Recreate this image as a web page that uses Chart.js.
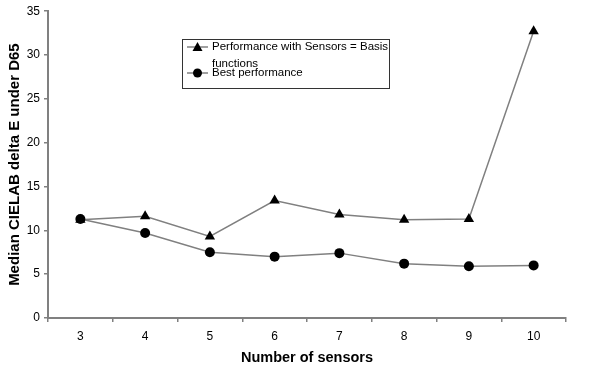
<!DOCTYPE html>
<html><head><meta charset="utf-8">
<script src="https://cdn.jsdelivr.net/npm/chart.js@4"></script>
<style>html,body{margin:0;padding:0;background:#fff}#c{display:block}</style>
</head><body>
<canvas id="c" width="591" height="367"></canvas>
<script>
const categories = ['3','4','5','6','7','8','9','10'];
const basisValues = [11.2, 11.6, 9.3, 13.4, 11.8, 11.2, 11.3, 32.7];
const bestValues = [11.3, 9.7, 7.5, 7.0, 7.4, 6.2, 5.9, 6.0];
const seriesNames = ['Performance with Sensors = Basis functions', 'Best performance'];
const yTicks = [0,5,10,15,20,25,30,35];
const FONT = '"Liberation Sans", Arial, sans-serif';

const legendPlugin = {
  id: 'customLegend',
  afterDraw(chart) {
    const ctx = chart.ctx;
    ctx.save();
    ctx.strokeStyle = '#333';
    ctx.lineWidth = 1;
    ctx.strokeRect(182.5, 39.5, 207, 49);
    ctx.font = '11.5px ' + FONT;
    ctx.fillStyle = '#000';
    ctx.textBaseline = 'middle';
    ctx.textAlign = 'left';
    ctx.strokeStyle = '#808080'; ctx.lineWidth = 1.5;
    ctx.beginPath(); ctx.moveTo(187, 47); ctx.lineTo(208, 47); ctx.stroke();
    ctx.beginPath(); ctx.moveTo(197.5, 42); ctx.lineTo(202.5, 51); ctx.lineTo(192.5, 51); ctx.closePath(); ctx.fill();
    ctx.fillText('Performance with Sensors = Basis', 212, 47);
    ctx.fillText('functions', 212, 64);
    ctx.beginPath(); ctx.moveTo(187, 73); ctx.lineTo(208, 73); ctx.stroke();
    ctx.beginPath(); ctx.arc(197.5, 73, 4.5, 0, Math.PI*2); ctx.fill();
    ctx.fillText('Best performance', 212, 73);
    ctx.restore();
  }
};

new Chart(document.getElementById('c'), {
  type: 'line',
  data: {
    labels: categories,
    datasets: [
      { label: seriesNames[0], data: basisValues, borderColor: '#808080', borderWidth: 1.5, order: 2,
        pointStyle: 'triangle', pointRadius: 6, pointBackgroundColor: '#000', pointBorderColor: '#000', pointBorderWidth: 0, tension: 0 },
      { label: seriesNames[1], data: bestValues, borderColor: '#808080', borderWidth: 1.5, order: 1,
        pointStyle: 'circle', pointRadius: 5, pointBackgroundColor: '#000', pointBorderColor: '#000', pointBorderWidth: 0, tension: 0 }
    ]
  },
  options: {
    responsive: false, animation: false,
    layout: { padding: { top: 10, right: 25, left: 0, bottom: 0 } },
    plugins: { legend: { display: false }, tooltip: { enabled: false } },
    scales: {
      x: {
        offset: true,
        grid: { display: true, offset: true, drawOnChartArea: false, drawTicks: true, tickLength: 4, color: '#808080', lineWidth: 1.5 },
        border: { display: true, color: '#808080', width: 2 },
        ticks: { color: '#000', font: { family: FONT, size: 12 }, padding: 7, maxRotation: 0 },
        title: { display: true, text: 'Number of sensors', color: '#000', font: { family: FONT, size: 14.5, weight: 'bold' }, padding: { top: 0, bottom: 0 } },
        afterFit(s) { s.height = 49; }
      },
      y: {
        min: 0, max: 35,
        afterBuildTicks(s) { s.ticks = yTicks.map(v => ({ value: v })); },
        grid: { display: true, drawOnChartArea: false, drawTicks: true, tickLength: 4, color: '#808080', lineWidth: 1.5 },
        border: { display: true, color: '#808080', width: 2 },
        ticks: { color: '#000', font: { family: FONT, size: 12 }, padding: 4 },
        title: { display: true, text: 'Median CIELAB delta E under D65', color: '#000', font: { family: FONT, size: 15, weight: 'bold' }, padding: { top: 6, bottom: 0 } },
        afterFit(s) { s.width = 48; }
      }
    }
  },
  plugins: [legendPlugin]
});
</script>
</body></html>
